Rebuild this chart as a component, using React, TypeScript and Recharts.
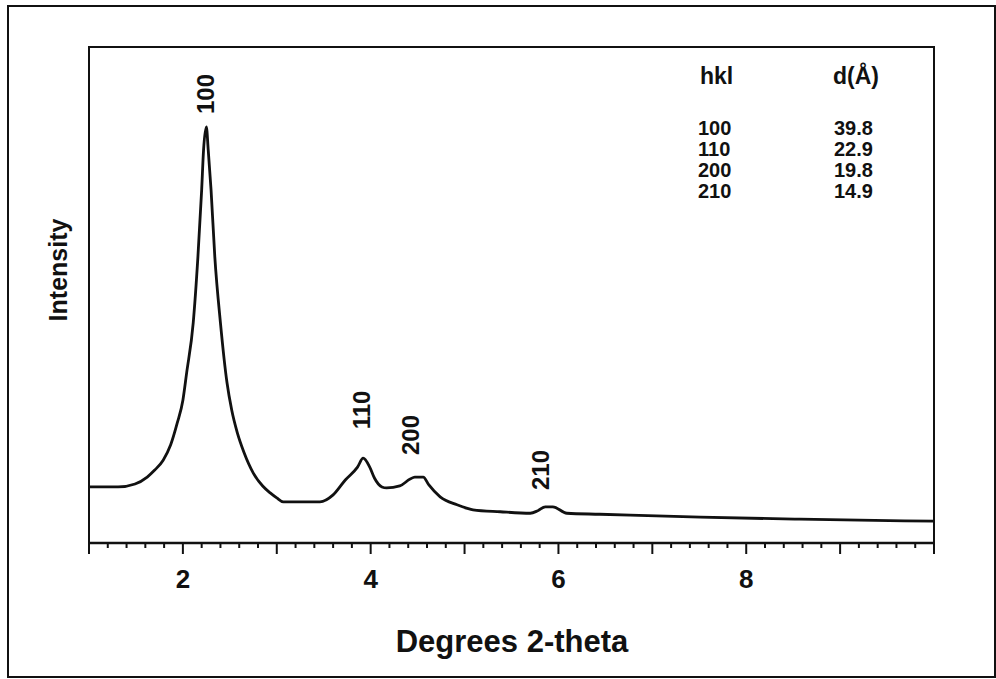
import React from 'react';
import { LineChart, Line, XAxis, YAxis } from 'recharts';

// 2-theta (deg) and intensity (arbitrary units)
const twoTheta = [
  1.0, 1.31, 1.49, 1.62, 1.7, 1.79, 1.87, 1.94, 2.0, 2.04, 2.11, 2.16, 2.2,
  2.22, 2.25, 2.27, 2.3, 2.34, 2.4, 2.47, 2.52, 2.58, 2.65, 2.75, 2.85,
  2.93, 3.0, 3.07, 3.46, 3.6, 3.73, 3.86, 3.92, 3.99, 4.04, 4.12, 4.17,
  4.31, 4.42, 4.47, 4.56, 4.62, 4.74, 4.92, 5.09, 5.38, 5.7, 5.78, 5.86,
  5.94, 6.09, 6.44, 7.51, 8.57, 10.0,
];
const intensity = [
  11.3, 11.3, 11.9, 13.3, 14.7, 16.7, 19.8, 24.2, 28.8, 34.3, 44.4, 57.7, 71.2,
  79.2, 83.9, 79.2, 71.2, 57.7, 44.4, 32.3, 26.8, 22.2, 18.3, 14.1, 11.5,
  10.1, 9.1, 8.3, 8.3, 9.7, 12.7, 15.3, 17.1, 15.3, 13.1, 11.3, 11.1,
  11.5, 12.9, 13.3, 13.3, 11.7, 9.3, 7.7, 6.7, 6.3, 6.0, 6.5, 7.3,
  7.3, 6.0, 5.8, 5.2, 4.8, 4.4,
];

const tickLabels = [2, 4, 6, 8];
const hkl = ['100', '110', '200', '210'];
const dSpacing = ['39.8', '22.9', '19.8', '14.9'];

const data = twoTheta.map((x, i) => ({ x, y: intensity[i] }));

const ticks: number[] = [];
for (let i = 0; i <= 45; i++) ticks.push(Math.round((1 + i * 0.2) * 10) / 10);

const FONT = '"Liberation Sans", Arial, Helvetica, sans-serif';

const AxisTick = (props: any) => {
  const { x, y, payload } = props;
  const v = payload.value;
  const isInt = Math.abs(v - Math.round(v)) < 1e-6;
  const labelled = isInt && tickLabels.includes(Math.round(v));
  return (
    <g>
      <line x1={x} y1={y} x2={x} y2={y + (isInt ? 11 : 5)} stroke="#111" strokeWidth={2} />
      {labelled && (
        <text x={x} y={y + 45} textAnchor="middle" fontFamily={FONT} fontWeight="bold" fontSize={26} fill="#111">
          {Math.round(v)}
        </text>
      )}
    </g>
  );
};

const txt: React.CSSProperties = {
  position: 'absolute',
  fontFamily: FONT,
  fontWeight: 'bold',
  color: '#111',
  whiteSpace: 'nowrap',
  lineHeight: 1,
};

const PeakLabel = ({ text, x, y }: { text: string; x: number; y: number }) => (
  <div style={{ ...txt, fontSize: 24, left: x, top: y, transform: 'translate(-50%, -50%) rotate(-90deg)' }}>
    {text}
  </div>
);

export default function App() {
  return (
    <div style={{ position: 'absolute', left: 0, top: 0, width: 996, height: 679, background: '#fff' }}>
      <div style={{ position: 'absolute', left: 7, top: 5, width: 985, height: 669, border: '2px solid #111' }} />
      <div style={{ position: 'absolute', left: 0, top: 0 }}>
        <LineChart width={996} height={679} data={data} margin={{ top: 47, right: 62, bottom: 106, left: 89 }}>
          <XAxis
            dataKey="x"
            type="number"
            domain={[1, 10]}
            ticks={ticks}
            interval={0}
            tickLine={false}
            tickSize={0}
            tickMargin={0}
            tick={<AxisTick />}
            height={30}
            axisLine={{ stroke: '#111', strokeWidth: 2.5 }}
            allowDataOverflow
          />
          <YAxis type="number" domain={[0, 100]} tick={false} tickLine={false} width={0} axisLine={{ stroke: '#111', strokeWidth: 2.5 }} />
          <Line type="monotone" dataKey="y" stroke="#111" strokeWidth={2.8} dot={false} isAnimationActive={false} />
        </LineChart>
      </div>
      {/* plot box outline */}
      <div style={{ position: 'absolute', left: 88, top: 46, width: 843, height: 494, border: '2.5px solid #111', pointerEvents: 'none' }} />

      <PeakLabel text="100" x={206} y={94} />
      <PeakLabel text="110" x={362} y={410} />
      <PeakLabel text="200" x={411} y={435} />
      <PeakLabel text="210" x={541} y={470} />

      <div style={{ ...txt, fontSize: 23, left: 700, top: 65 }}>hkl</div>
      <div style={{ ...txt, fontSize: 23, left: 833, top: 65 }}>d(Å)</div>
      {hkl.map((h, i) => (
        <React.Fragment key={h}>
          <div style={{ ...txt, fontSize: 20, left: 698, top: 118 + i * 21 }}>{h}</div>
          <div style={{ ...txt, fontSize: 20, left: 834, top: 118 + i * 21 }}>{dSpacing[i]}</div>
        </React.Fragment>
      ))}

      <div style={{ ...txt, fontSize: 25, left: 58, top: 270, transform: 'translate(-50%, -50%) rotate(-90deg)' }}>Intensity</div>
      <div style={{ ...txt, fontSize: 31, left: 512, top: 641, transform: 'translate(-50%, -50%)' }}>Degrees 2-theta</div>
    </div>
  );
}
